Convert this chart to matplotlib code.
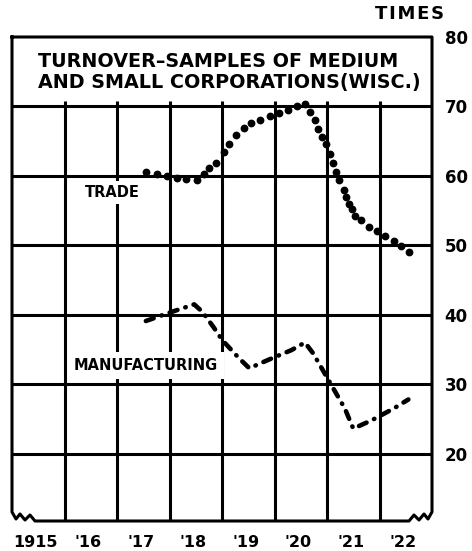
import matplotlib
matplotlib.use('Agg')
import matplotlib.pyplot as plt
from matplotlib.lines import Line2D

# ---- data ----
year_labels = ['1915', "'16", "'17", "'18", "'19", "'20", "'21", "'22"]
first_year = 1915
y_ticks = [20, 30, 40, 50, 60, 70, 80]

trade_year = [1917.55, 1917.76, 1917.95, 1918.14, 1918.32, 1918.52, 1918.65, 1918.75,
              1918.89, 1919.03, 1919.14, 1919.27, 1919.41, 1919.56, 1919.73, 1919.92,
              1920.08, 1920.26, 1920.42, 1920.59, 1920.67, 1920.77, 1920.83, 1920.91,
              1920.99, 1921.05, 1921.12, 1921.17, 1921.23, 1921.32, 1921.37, 1921.42,
              1921.47, 1921.53, 1921.65, 1921.80, 1921.95, 1922.11, 1922.27, 1922.41,
              1922.57]
trade_val = [60.5, 60.2, 60.0, 59.7, 59.5, 59.35, 60.3, 61.1,
             61.8, 63.4, 64.6, 65.9, 66.9, 67.6, 68.1, 68.6,
             69.0, 69.5, 70.0, 70.4, 69.2, 68.1, 66.8, 65.6,
             64.6, 63.2, 61.8, 60.6, 59.35, 58.0, 56.9, 56.0,
             55.2, 54.2, 53.6, 52.7, 52.1, 51.3, 50.6, 49.9,
             49.0]

mfg_year = [1917.55, 1917.96, 1918.47, 1918.63, 1918.84, 1919.01, 1919.33, 1919.52,
            1919.88, 1920.32, 1920.58, 1920.74, 1920.99, 1921.34, 1921.50, 1921.85,
            1922.27, 1922.55]
mfg_val = [39.1, 40.2, 41.5, 40.4, 38.2, 36.3, 33.7, 32.3,
           33.5, 34.9, 36.0, 34.4, 31.1, 26.5, 23.6, 24.8,
           26.5, 27.8]

title_lines = ['TURNOVER\u2013SAMPLES OF MEDIUM', 'AND SMALL CORPORATIONS(WISC.)']

# ---- figure ----
W, H = 472, 551
fig = plt.figure(figsize=(W / 100, H / 100), dpi=100)
ax_left, ax_bottom, ax_w, ax_h = 12, 30, 420, 484   # pixels
ax = fig.add_axes([ax_left / W, ax_bottom / H, ax_w / W, ax_h / H])
n_years = len(year_labels)
ymin, ymax = 10.3, 80
ax.set_xlim(first_year, first_year + n_years)
ax.set_ylim(ymin, ymax)
for s in ax.spines.values():
    s.set_visible(False)

lw = 2.2
ax.hlines(y_ticks[:-1], first_year, first_year + n_years, color='black', lw=lw, zorder=1)
ax.vlines([first_year + i for i in range(1, n_years)], ymin, 70.85, color='black', lw=lw, zorder=1)

# frame with broken (wavy) bottom corners
px = [0, 0, 4, 8, 13, 18, 23, 29, ax_w - 29, ax_w - 23, ax_w - 18, ax_w - 13, ax_w - 8, ax_w - 4, ax_w, ax_w, 0]
py = [ax_h, 9, 2, 7, 1, 6, 0, 0, 0, 0, 6, 1, 7, 2, 9, ax_h, ax_h]
frame = Line2D([p / ax_w for p in px], [q / ax_h for q in py], transform=ax.transAxes,
               color='black', lw=lw, clip_on=False, solid_joinstyle='round', zorder=2)
ax.add_line(frame)

# data
ax.plot(trade_year, trade_val, 'o', ms=4.6, color='black', zorder=3)
ax.plot(mfg_year, mfg_val, color='black', lw=3.3, linestyle=(0, (1.8, 1.8, 0.1, 1.8)),
        dash_capstyle='round', solid_capstyle='round', zorder=3)

# ticks
ax.set_xticks([first_year + i + 0.45 for i in range(n_years)])
ax.set_xticklabels(year_labels, fontweight='bold', fontsize=11.5)
ax.tick_params(axis='x', length=0, pad=10)
ax.yaxis.tick_right()
ax.set_yticks(y_ticks)
ax.set_yticklabels([str(v) for v in y_ticks], fontweight='bold', fontsize=12)
ax.tick_params(axis='y', length=0, pad=9)

# texts
fig.text(410 / W, 1 - 14 / H, 'T I M E S'.replace(' ', '\u200a'), ha='center', va='center',
         fontweight='bold', fontsize=13)
ax.text(first_year + 0.5, 75.68, title_lines[0], fontsize=13.8, fontweight='bold', va='baseline', ha='left')
ax.text(first_year + 0.5, 72.66, title_lines[1], fontsize=13.8, fontweight='bold', va='baseline', ha='left')

ax.text(1916.905, 57.6, 'TRADE', fontsize=10.5, fontweight='bold', ha='center', va='center', zorder=4,
        bbox=dict(facecolor='white', edgecolor='none', boxstyle='square,pad=0.3'))
ax.text(1917.55, 32.7, 'MANUFACTURING', fontsize=10.5, fontweight='bold', ha='center', va='center', zorder=4,
        bbox=dict(facecolor='white', edgecolor='none', boxstyle='square,pad=0.4'))

fig.savefig('out.png', dpi=100, facecolor='white')
